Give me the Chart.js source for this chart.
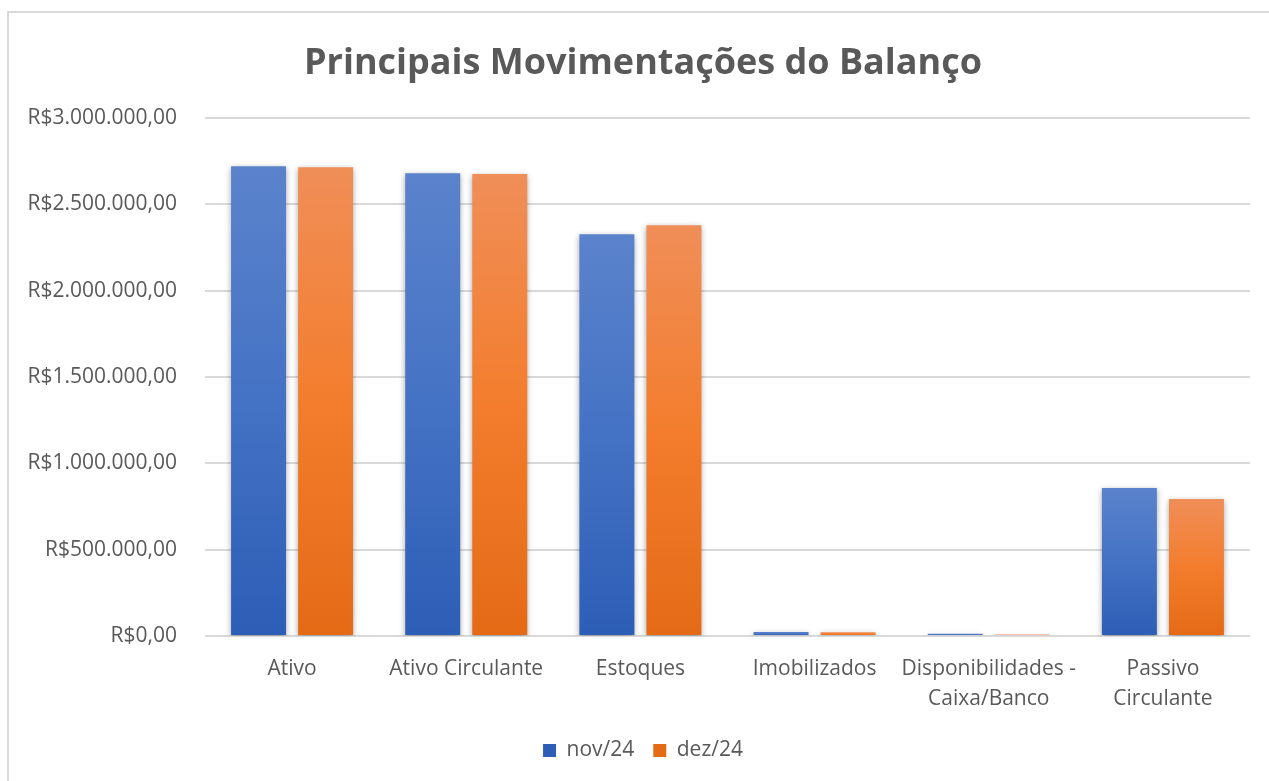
<!DOCTYPE html>
<html>
<head>
<meta charset="utf-8">
<script src="https://cdn.jsdelivr.net/npm/chart.js@4"></script>
<style>
  html, body { margin: 0; padding: 0; background: #fff; }
  #wrap { position: relative; width: 1269px; height: 781px; overflow: hidden; }
  #frame { position: absolute; left: 7px; top: 11px; width: 1290px; height: 800px; border: 2px solid #d9d9d9; box-sizing: border-box; }
  canvas { position: absolute; left: 0; top: 0; }
</style>
</head>
<body>
<div id="wrap">
  <div id="frame"></div>
  <canvas id="chart" width="1269" height="781"></canvas>
</div>
<script>
const categories = ["Ativo", "Ativo Circulante", "Estoques", "Imobilizados", ["Disponibilidades -", "Caixa/Banco"], ["Passivo", "Circulante"]]
const nov24 = [2722000, 2681000, 2328000, 23000, 12000, 857000]
const dez24 = [2716000, 2676000, 2380000, 22000, 9000, 793000]
const seriesNames = ["nov/24", "dez/24"]

const FONT = "'Open Sans', sans-serif"
const GREY = "#595959"

// gradient per bar, lighter on top like the Excel fill
function barFill(top, mid, bottom) {
    return (c) => {
        if (c.type !== 'data') return mid
        const chart = c.chart
        const y = chart.scales.y
        if (!y) return mid
        const y0 = y.getPixelForValue(c.raw)
        const y1 = y.getPixelForValue(0)
        if (!isFinite(y0) || y1 - y0 < 1) return mid
        const g = chart.ctx.createLinearGradient(0, y0, 0, y1)
        g.addColorStop(0, top)
        g.addColorStop(0.5, mid)
        g.addColorStop(1, bottom)
        return g
    }
}

function money(v) {
    let s = Math.round(v).toString().replace(/\B(?=(\d{3})+(?!\d))/g, ".")
    return "R$" + s + ",00"
}

const shadow = {
    id: 'shadow',
    afterLayout(chart) {
        // y labels are wider than the axis box, let them spill into the left padding
        chart.scales.y.left = 0
    },
    beforeDatasetsDraw(chart) {
        const ctx = chart.ctx
        ctx.save()
        ctx.shadowColor = 'rgba(0,0,0,0.35)'
        ctx.shadowBlur = 6
        ctx.shadowOffsetY = 2
    },
    afterDatasetsDraw(chart) {
        chart.ctx.restore()
    }
}

const ctx = document.getElementById('chart').getContext('2d')
const myChart = new Chart(ctx, {
    type: 'bar',
    data: {
        labels: categories,
        datasets: [{
            label: seriesNames[0],
            data: nov24,
            backgroundColor: barFill('#5b83cc', '#4472c4', '#2d5eb6'),
            barPercentage: 0.82,
            categoryPercentage: 0.77
        }, {
            label: seriesNames[1],
            data: dez24,
            backgroundColor: barFill('#f08e58', '#f37d2d', '#e46a16'),
            barPercentage: 0.82,
            categoryPercentage: 0.77
        }]
    },
    plugins: [shadow],
    options: {
        responsive: false,
        animation: false,
        layout: { padding: { top: 12, right: 19, bottom: 10, left: 36 } },
        plugins: {
            title: {
                display: true,
                text: 'Principais Movimentações do Balanço',
                color: GREY,
                font: { family: FONT, size: 36, weight: 'bold' },
                padding: { top: 30, bottom: 33 }
            },
            legend: {
                position: 'bottom',
                labels: {
                    color: GREY,
                    font: { family: FONT, size: 21 },
                    boxWidth: 13,
                    boxHeight: 13,
                    padding: 19
                }
            },
            tooltip: { enabled: false }
        },
        scales: {
            x: {
                afterFit: (s) => { s.height -= 3 },
                grid: { display: false },
                border: { display: false },
                ticks: {
                    color: GREY,
                    font: { family: FONT, size: 21, lineHeight: 1.43 },
                    maxRotation: 0,
                    autoSkip: false,
                    padding: 10
                }
            },
            y: {
                min: 0,
                max: 3000000,
                afterFit: (s) => { s.width = 169 },
                grid: { color: '#d9d9d9', lineWidth: 2, drawTicks: false },
                border: { display: false },
                ticks: {
                    stepSize: 500000,
                    color: GREY,
                    font: { family: FONT, size: 21 },
                    padding: 28,
                    callback: (v) => money(v)
                }
            }
        }
    }
})
</script>
</body>
</html>
